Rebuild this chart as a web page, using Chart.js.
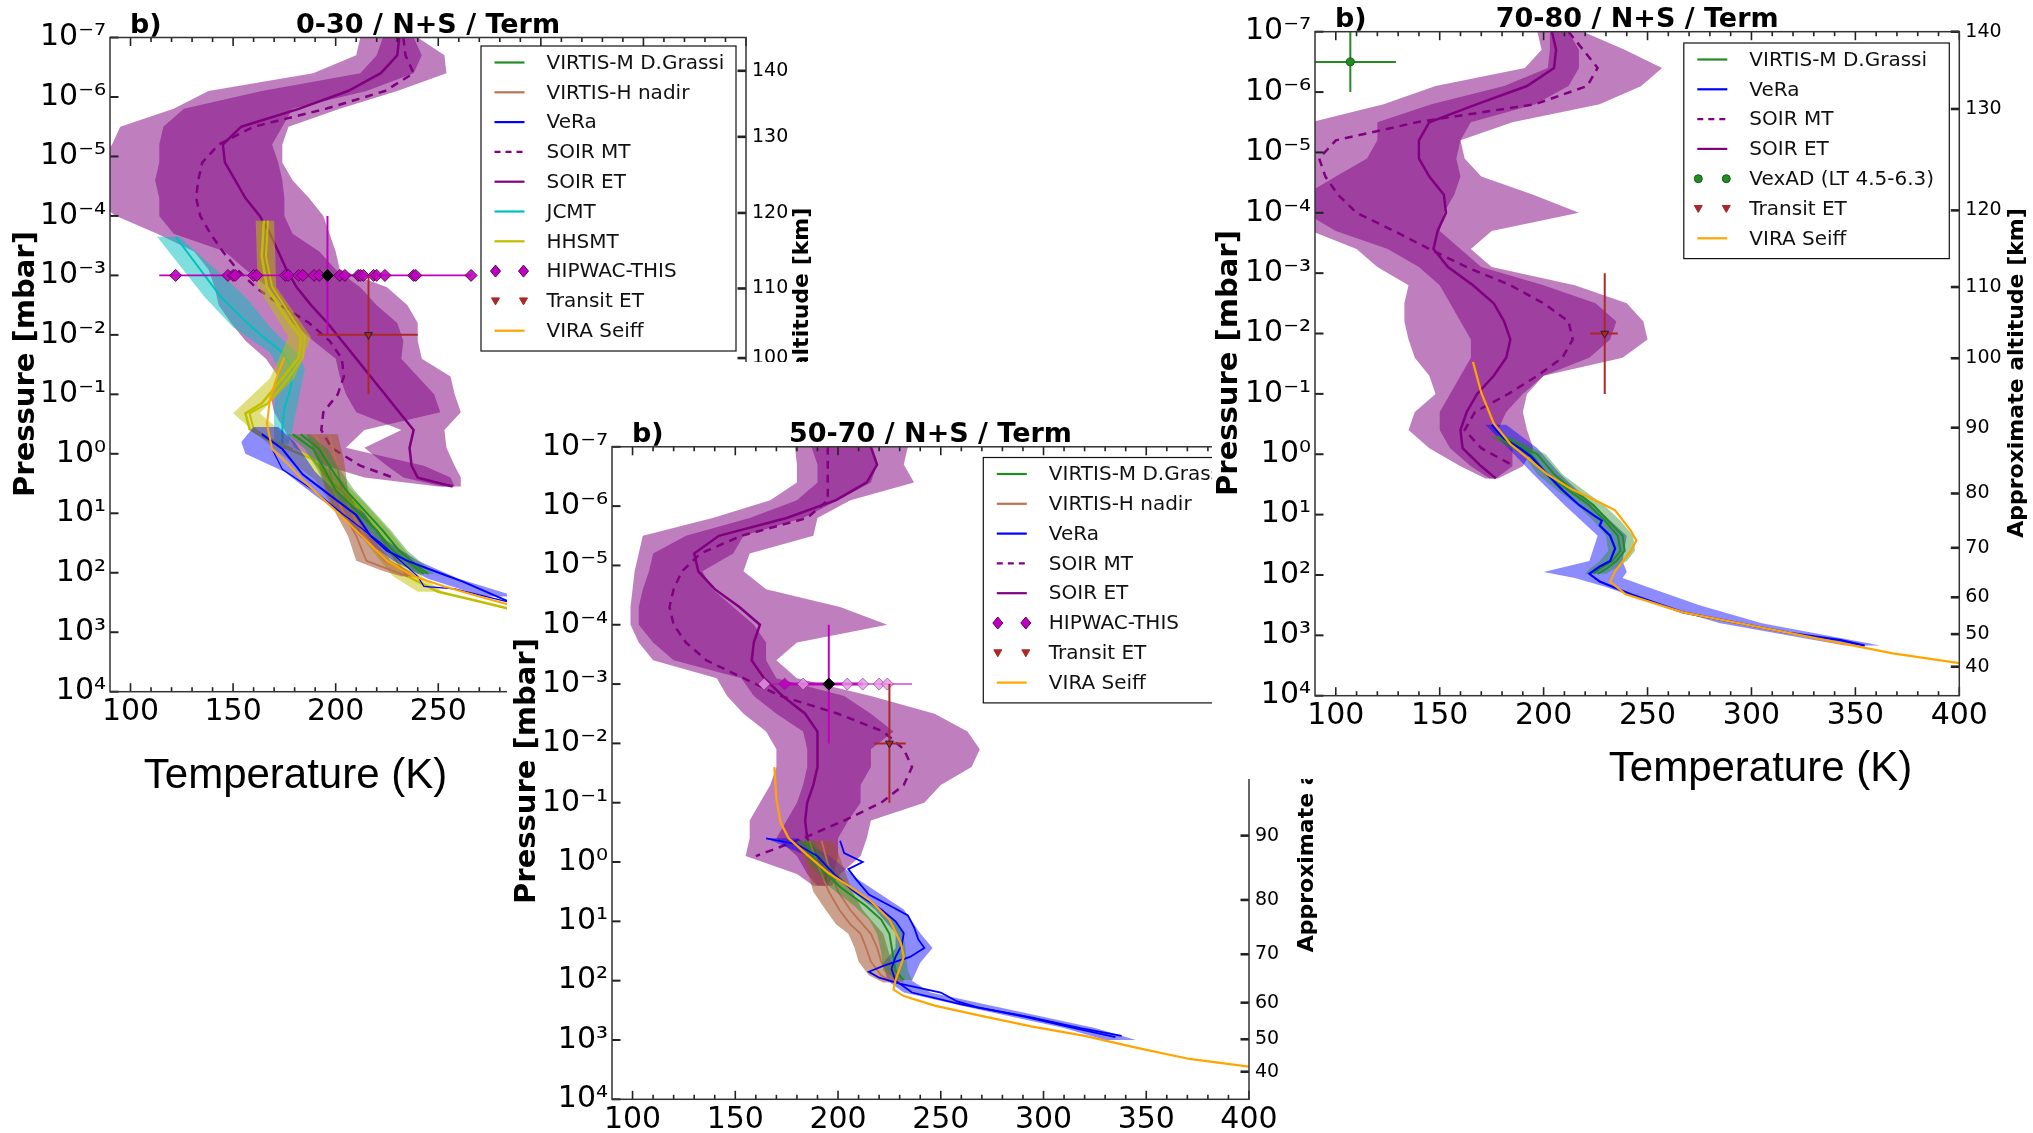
<!DOCTYPE html>
<html><head><meta charset="utf-8">
<script src="https://cdn.jsdelivr.net/npm/chart.js@4.4.1/dist/chart.umd.min.js"></script>
<style>
html,body{margin:0;padding:0;background:#fff;width:2033px;height:1133px;overflow:hidden;}
canvas{position:absolute;display:block;}
#c1{left:0;top:0;z-index:1;background:#fff;}
#c2{left:507px;top:362px;z-index:2;background:#fff;}
#c3{left:1212px;top:0;z-index:3;background:linear-gradient(to bottom,#fff 0,#fff 779px,rgba(255,255,255,0) 779px);}
</style></head><body>
<canvas id="c1" width="840" height="800"></canvas>
<canvas id="c2" width="830" height="771"></canvas>
<canvas id="c3" width="821" height="796"></canvas>
<script>
// ================= shared axes =================
const PRESSURE_DECADES = [1e-7,1e-6,1e-5,1e-4,1e-3,1e-2,1e-1,1e0,1e1,1e2,1e3,1e4];
const TEMP_TICKS = [100,150,200,250,300,350,400];
const ALT_LABELS = [140,130,120,110,100,90,80,70,60,50,40];
const SOIR_LOGP = [-7,-6.7,-6.4,-6.1,-5.8,-5.5,-5.2,-4.9,-4.6,-4.3,-4.0,-3.7,-3.4,-3.1,-2.8,-2.5,-2.2,-1.9,-1.6,-1.3,-1.0,-0.7,-0.4,-0.1,0.2,0.4];

// ================= panel 1 : 0-30 =================
const p1Title = '0-30 / N+S / Term';
const p1AltLogP = [-6.44,-5.33,-4.05,-2.78,-1.61,-0.44,0.64,1.55,2.37,2.98,3.53];
const p1SoirLogP = [-7,-6.7,-6.4,-6.1,-5.8,-5.5,-5.2,-4.9,-4.6,-4.3,-4.0,-3.7,-3.4,-3.1,-2.8,-2.5,-2.2,-1.9,-1.6,-1.3,-1.0,-0.7,-0.4,-0.1,0.2,0.4,0.55];
const p1SoirET = [231,230,222,206,182,154,145,146,151,156,163,168,172,176,181,188,196,203,210,217,224,231,238,236,237,240,257];
const p1SoirMT = [233,234,238,224,195,160,143,135,133,132,134,139,145,152,161,173,187,197,203,204,201,194,193,198,212,228,null];
const p1BandALo = [212,210,189,138,121,95,91,85,80,80,93,113,131,138,141,143,149,156,166,172,168,170,175,180,195,214,250];
const p1BandAHi = [238,242,238,215,179,174,169,172,174,175,175,179,192,200,212,220,230,233,232,240,248,251,214,205,243,256,258];
const p1BandBLo = [223,220,212,164,126,116,114,114,112,114,114,121,146,156,167,174,179,189,200,202,205,210,232,214,225,233,252];
const p1BandBHi = [240,253,254,230,202,177,174,174,179,187,194,197,200,202,225,235,240,240,242,256,258,261,253,254,258,261,261];
const p1VeraLogP1 = [-0.33,-0.08,0.35,0.69,1.03,1.38,1.63,1.80,1.97,2.15,2.36,2.6];
const p1VeraT1 = [164,174,184,197,210,217,225,235,248,262,276,292];
const p1VeraLogP2 = [-0.08,0.26,0.61,1.0,1.5,2.06,2.23,2.27,2.49];
const p1VeraT2 = [169,174,189,203,222,240,243,258,284];
const p1VeraBandLogP = [-0.45,-0.2,0.0,0.3,0.7,1.0,1.4,1.8,2.1,2.4];
const p1VeraBandLo = [160,154,156,175,190,202,212,228,245,272];
const p1VeraBandHi = [172,180,184,190,202,214,222,240,260,288];
const p1GrassiLogP = [-0.33,-0.08,0.26,0.61,0.95,1.29,1.63,1.89,2.02];
const p1GrassiT1 = [179,189,194.5,200,210,220,228,238,243];
const p1GrassiT2 = [183,192,198,205,214,223,231,240,245];
const p1GrassiLo = [176,185,191,196,206,216,224,234,240];
const p1GrassiHi = [187,196,202,209,218,227,235,244,248];
const p1NadirLogP = [-0.33,0.09,0.61,1.0,1.38,1.80,1.97,2.06];
const p1NadirT1 = [190,196,199,204,210,215,228,235];
const p1NadirT2 = [197,200,203,208,214,224,234,237];
const p1NadirLo = [186,191,195,200,206,210,223,232];
const p1NadirHi = [201,204,206,211,217,227,236,239];
const p1JcmtLogP = [-3.65,-2.64,-2.13,-1.70,-1.44,-1.10,-0.76,-0.42,-0.16];
const p1JcmtT = [122,144,159,174,179,178,175,174,174];
const p1JcmtLo = [113,136,150,168,172,171,170,170,170];
const p1JcmtHi = [124,156,168,181,185,183,181,179,177];
const p1HhsmtLogP = [-3.92,-3.32,-2.81,-2.38,-1.96,-1.62,-1.27,-0.85,-0.68,-0.42,-0.25,-0.08,0.09,0.44,0.86,1.29,1.72,2.06,2.32,2.45,2.6];
const p1HhsmtT1 = [165,164,166.5,174,183,182,174,164,156,158,166,177,189,197,210,220,228,235,250,266,284];
const p1HhsmtLogP2 = [-3.92,-3.32,-2.81,-2.38,-1.96,-1.62,-1.27,-0.85,-0.68,-0.42,-0.25,-0.08];
const p1HhsmtT2 = [167,166,169,177,185,184,177,167,158,160,168,179];
const p1HhsmtBandLogP = [-3.92,-2.81,-1.96,-1.27,-0.68,-0.08,0.44,0.86,1.29,1.72,2.06,2.32];
const p1HhsmtLo = [161,162,177,168,150,170,190,198,210,220,228,240];
const p1HhsmtHi = [170,171,188,180,163,183,203,215,226,236,242,252];
const p1ViraLogP = [-1.62,-1.36,-0.93,-0.50,-0.08,0.18,0.44,0.78,1.12,1.46,1.80,2.06,2.23,2.40,2.55];
const p1ViraT = [175,172,168,166.5,169,177,184,194.5,205,215,225,238,253,270,286];
const p1HipwacT = [122,147.5,150,151,160,161.5,175.5,177,182,184,189.5,192,202,204.5,211,212,213.5,218.5,220,224,238,239,266];
const p1HipwacMean = [196];
const p1HipwacRange = [114,266];
const p1HipwacErrLogP = [-4,-2];
const p1TransitT = [216];
const p1TransitRange = [191,240];
const p1TransitErrLogP = [-3,-1];

// ================= panel 2 : 50-70 =================
const p2Title = '50-70 / N+S / Term';
const p2AltLogP = [-6.9,-5.7,-4.04,-2.77,-1.59,-0.445,0.639,1.555,2.371,2.988,3.535];
const p2SoirET = [216,219,214,199,175,142,130,132,140,152,162,159,158,164,173,184,190,190,190,188,185,184,185,190,194,194];
const p2SoirMT = [195,195,195,195,185,153,133,124,120,118,120,126,136,154,172,200,222,232,236,232,221,203,183,160,null,null];
const p2BandALo = [179,180,180,167,139,105,103,101,100,99,99,103,110,141,146,154,165,170,170,167,162,157,157,155,180,188];
const p2BandAHi = [216,219,216,200,183,154,149,134,139,149,159,165,165,170,203,216,227,216,216,211,211,205,200,200,198,195];
const p2BandBLo = [187,190,190,180,157,126,110,108,105,103,103,110,120,153,159,170,183,185,185,183,180,175,170,180,185,190];
const p2BandBHi = [234,232,237,206,190,188,157,154,165,201,224,180,170,180,216,247,263,269,265,250,242,216,214,211,201,197];
const p2VeraLogP1 = [-0.36,-0.15,0.0,0.12,0.3,0.55,0.75,0.9,1.1,1.3,1.45,1.6,1.75,1.85,1.95,2.05,2.2,2.35,2.45,2.62,2.8,2.93];
const p2VeraT1 = [201,203,212,205,209,215,226,234,237,239,242,235,222,215,220,230,250,258,268,294,318,338];
const p2VeraLogP2 = [-0.4,-0.3,-0.1,0.2,0.5,0.8,1.0,1.2,1.4,1.6,1.8,2.0,2.2,2.4,2.6,2.8,2.95];
const p2VeraT2 = [165,180,190,198,208,221,228,232,231,228,226,228,236,260,290,315,335];
const p2VeraBandLogP = [-0.4,-0.1,0.3,0.8,1.2,1.45,1.7,2.0,2.2,2.5,2.8,3.0];
const p2VeraBandLo = [165,185,200,218,228,228,222,224,232,270,310,330];
const p2VeraBandHi = [180,196,210,232,240,246,240,236,245,285,325,345];
const p2GrassiLogP = [-0.36,0.03,0.42,0.74,0.97,1.21,1.52,1.83,1.99];
const p2GrassiT = [184,190,201,213.6,221,225,226.5,228,232];
const p2GrassiLo = [180,186,196,208,215,219,221,222,228];
const p2GrassiHi = [188,195,206,219,227,232,233,234,236];
const p2NadirLogP = [-0.36,0.03,0.5,0.81,1.05,1.21,1.44,1.68,1.91,2.03];
const p2NadirT1 = [186,190,195.5,200.7,206,211,213.6,216,221,226.5];
const p2NadirT2 = [192,195,200,206,212,216,219,221,225,229];
const p2NadirLo = [180,184,188,194,199,205,208,210,215,222];
const p2NadirHi = [198,202,207,212,218,222,224,226,230,232];
const p2ViraLogP = [-1.60,-1.06,-0.67,-0.40,-0.12,0.19,0.42,0.66,0.97,1.36,1.60,1.99,2.15,2.26,2.42,2.58,2.77,2.93,3.13,3.32,3.45];
const p2ViraT = [169,170,172,176,185,195.5,206,216,225,230.5,232,228,227,232,247,268,294,320,345,371,400];
const p2HipwacT = [164,174,183,204.5,212,220,224];
const p2HipwacMean = [195.5];
const p2HipwacRange = [163,236];
const p2HipwacCore = [174,212];
const p2HipwacErrLogP = [-4,-2];
const p2TransitT = [225];
const p2TransitRange = [217.5,233];
const p2TransitErrLogP = [-3,-1];

// ================= panel 3 : 70-80 =================
const p3Title = '70-80 / N+S / Term';
const p3AltLogP = [-7.0,-5.72,-4.04,-2.77,-1.59,-0.44,0.65,1.55,2.37,2.98,3.52];
const p3SoirET = [204,206,205,192,168,145,140,140,145,152,153,149,147,154,166,176,181,184,182,176,168,163,160,161,170,177];
const p3SoirMT = [212,219,226,221,196,139,100,92,95,101,110,128,145,163,184,200,212,214,209,197,183,167,162,170,186,null];
const p3BandALo = [197,199,191,148,123,88,85,85,85,85,85,88,110,120,135,133,133,135,138,145,148,138,135,145,160,172];
const p3BandAHi = [212,217,217,212,196,165,160,158,160,157,152,150,160,170,200,225,235,232,222,200,190,182,178,185,185,177];
const p3BandBLo = [203,203,202,181,146,120,120,115,100,85,85,100,125,140,150,155,160,165,165,160,155,150,150,155,165,174];
const p3BandBHi = [219,239,257,247,227,185,160,162,170,195,217,175,165,175,215,240,248,250,238,200,192,190,192,195,190,178];
const p3VeraLogP = [-0.49,-0.26,-0.09,0.04,0.33,0.59,0.84,1.01,1.10,1.18,1.35,1.56,1.77,1.86,1.98,2.11,2.32,2.62,2.79,2.96,3.08,3.17];
const p3VeraT = [175,181,189,194,201.6,209,217,224,228,227,232,234.4,232,227,222,227,242,267,292.6,318,343,354.5];
const p3VeraBandLogP = [-0.49,-0.1,0.33,0.84,1.35,1.77,1.95,2.05,2.2,2.5,2.8,3.17];
const p3VeraBandLo = [172,183,195,210,226,222,200,215,230,255,285,345];
const p3VeraBandHi = [182,197,208,224,240,238,240,238,250,275,305,362];
const p3GrassiLogP = [-0.30,-0.17,0.0,0.33,0.59,0.84,1.10,1.35,1.60,1.77,1.90,1.98];
const p3GrassiT1 = [177.6,184,194,201.6,211.7,221.8,229.4,235.7,237,233,227,224];
const p3GrassiT2 = [180,187,197,205,214,224,231,238,239,235,230,226];
const p3GrassiLo = [174,180,190,197,206,216,224,230,231,227,222,220];
const p3GrassiHi = [184,191,201,209,219,229,237,243,244,240,234,230];
const p3ViraLogP = [-1.53,-1.02,-0.51,-0.17,0.04,0.33,0.59,0.80,0.93,1.27,1.43,1.60,1.94,2.11,2.32,2.62,2.79,2.96,3.13,3.30,3.46];
const p3ViraT = [166,170,176,184,191.5,201.6,214,227,234.4,242,244.6,242,234.4,232,239.5,267,292.6,318,343,368,400];
const p3TransitT = [229.4];
const p3TransitRange = [222.3,235.7];
const p3TransitErrLogP = [-3,-1];
const p3VexadT = [107];
const p3VexadLogP = [-6.5];
const p3VexadRange = [85,129];
const p3VexadErrLogP = [-7,-6];

// ================= styling =================
const FONT = "'DejaVu Sans', sans-serif";
const XFONT = "'Liberation Sans', Arial, sans-serif";
Chart.defaults.font.family = FONT;
Chart.defaults.color = '#000';
const COL = {
  green:'rgb(34,139,34)', brown:'rgb(190,112,82)', blue:'rgb(0,0,255)', purple:'rgb(128,0,128)',
  cyan:'rgb(0,191,191)', olive:'rgb(191,191,0)', orange:'rgb(255,165,0)', magenta:'rgb(191,0,191)',
  transit:'rgb(170,40,40)'
};
const BAND = {
  purple:'rgba(128,0,128,0.5)', blue:'rgba(0,0,255,0.45)', green:'rgba(34,139,34,0.42)',
  brown:'rgba(160,82,45,0.55)', cyan:'rgba(0,191,191,0.5)', olive:'rgba(191,191,0,0.5)'
};

function xy(T, LP) {
  const out = [];
  for (let i = 0; i < T.length; i++) if (T[i] !== null) out.push({x: T[i], y: Math.pow(10, LP[i])});
  return out;
}
function xyConst(T, lp) { return T.map(t => ({x: t, y: Math.pow(10, lp)})); }
function poly(lo, hi, LP) {
  const out = [];
  for (let i = 0; i < lo.length; i++) out.push({x: lo[i], y: Math.pow(10, LP[i])});
  for (let i = hi.length - 1; i >= 0; i--) out.push({x: hi[i], y: Math.pow(10, LP[i])});
  return out;
}
function hBar(range, lp) { return [{x: range[0], y: Math.pow(10, lp)}, {x: range[1], y: Math.pow(10, lp)}]; }
function vBar(t, lpRange) { return [{x: t, y: Math.pow(10, lpRange[0])}, {x: t, y: Math.pow(10, lpRange[1])}]; }

function mkLine(data, color, width, dash) {
  return {data, borderColor: color, backgroundColor: color, borderWidth: width, borderDash: dash || [],
          pointRadius: 0, fill: false, tension: 0};
}
function mkBand(data, color) {
  return {data, borderColor: 'rgba(0,0,0,0)', borderWidth: 0, backgroundColor: color, fill: 'shape',
          pointRadius: 0, tension: 0};
}
function mkMarks(data, style, radius, bg, border, rot) {
  return {data, showLine: false, pointStyle: style, pointRadius: radius, pointBackgroundColor: bg,
          pointBorderColor: border, pointBorderWidth: 1, pointRotation: rot || 0,
          borderColor: border, backgroundColor: bg, fill: false};
}
function soirBands(aLo, aHi, bLo, bHi, LP) {
  return [mkBand(poly(aLo, aHi, LP), BAND.purple), mkBand(poly(bLo, bHi, LP), BAND.purple)];
}

const SUP = {'-':'\u207B','0':'\u2070','1':'\u00B9','2':'\u00B2','3':'\u00B3','4':'\u2074','5':'\u2075','6':'\u2076','7':'\u2077','8':'\u2078','9':'\u2079'};
function decadeLabel(v) {
  const e = Math.round(Math.log10(v));
  return '10' + String(e).split('').map(c => SUP[c]).join('');
}

function strokeLine(ctx, x0, y0, x1, y1) { ctx.beginPath(); ctx.moveTo(x0, y0); ctx.lineTo(x1, y1); ctx.stroke(); }
function vText(ctx, text, x, y, font) {
  ctx.save(); ctx.translate(x, y); ctx.rotate(-Math.PI / 2);
  ctx.font = font; ctx.textAlign = 'center'; ctx.textBaseline = 'middle'; ctx.fillStyle = '#000';
  ctx.fillText(text, 0, 0); ctx.restore();
}

function drawLegend(ctx, a, lg) {
  const rowH = 29.8, w = lg.width, h = lg.rows.length * rowH + 7;
  const x0 = a.right - lg.right - w, y0 = a.top + lg.top;
  ctx.fillStyle = '#fff'; ctx.fillRect(x0, y0, w, h);
  ctx.strokeStyle = '#111'; ctx.lineWidth = 1.2; ctx.setLineDash([]);
  ctx.strokeRect(x0, y0, w, h);
  lg.rows.forEach((r, i) => {
    const y = y0 + 16.5 + i * rowH, hx0 = x0 + 13.5, hx1 = x0 + 43.5;
    ctx.save();
    if (r.kind === 'line') {
      ctx.strokeStyle = r.color; ctx.lineWidth = 2.2; ctx.setLineDash(r.dash || []);
      strokeLine(ctx, hx0, y, hx1, y);
    } else {
      [hx0 + 1, hx1 - 1].forEach(cx => {
        ctx.fillStyle = r.color; ctx.strokeStyle = r.edge || r.color; ctx.lineWidth = 1;
        ctx.beginPath();
        if (r.kind === 'diamond') { ctx.moveTo(cx, y - 6); ctx.lineTo(cx + 5, y); ctx.lineTo(cx, y + 6); ctx.lineTo(cx - 5, y); }
        else if (r.kind === 'tri') { ctx.moveTo(cx - 4, y - 3); ctx.lineTo(cx + 4, y - 3); ctx.lineTo(cx, y + 4); }
        else { ctx.arc(cx, y, 4, 0, Math.PI * 2); }
        ctx.closePath(); ctx.fill(); ctx.stroke();
      });
    }
    ctx.restore();
    ctx.fillStyle = '#111'; ctx.font = '20px ' + FONT; ctx.textAlign = 'left'; ctx.textBaseline = 'middle';
    ctx.fillText(r.label, x0 + 65.5, y + 1);
  });
}

const venusPlugin = {
  id: 'venus',
  afterDraw(chart, args, o) {
    const ctx = chart.ctx, a = chart.chartArea;
    const xs = chart.scales.x, ys = chart.scales.y, as = chart.scales.alt;
    ctx.save();
    ctx.strokeStyle = '#222'; ctx.setLineDash([]);
    for (let t = 100; t <= 400; t += 10) {
      const px = xs.getPixelForValue(t);
      const len = TEMP_TICKS.includes(t) ? 8.5 : 4.5;
      ctx.lineWidth = 1.6;
      strokeLine(ctx, px, a.bottom, px, a.bottom - len);
      strokeLine(ctx, px, a.top, px, a.top + len);
    }
    ctx.lineWidth = 2;
    PRESSURE_DECADES.forEach(p => { const py = ys.getPixelForValue(p); strokeLine(ctx, a.left, py, a.left + 8.5, py); });
    ctx.lineWidth = 2.6;
    o.altLogP.forEach(lp => { const py = as.getPixelForValue(Math.pow(10, lp)); strokeLine(ctx, a.right - 8.5, py, a.right, py); });
    ctx.lineWidth = 1.5; ctx.strokeStyle = '#333';
    ctx.strokeRect(a.left, a.top, a.right - a.left, a.bottom - a.top);
    ctx.fillStyle = '#000'; ctx.textBaseline = 'alphabetic';
    ctx.font = 'bold 27px ' + FONT; ctx.textAlign = 'left';
    ctx.fillText('b)', a.left + 20, a.top - 5);
    ctx.textAlign = 'center';
    ctx.fillText(o.title, (a.left + a.right) / 2, a.top - 5);
    vText(ctx, 'Pressure [mbar]', o.ylab[0], o.ylab[1], 'bold 29px ' + FONT);
    vText(ctx, 'Approximate altitude [km]', o.alab[0], o.alab[1], 'bold 22px ' + FONT);
    if (o.xlab) {
      ctx.font = '42px ' + XFONT; ctx.textAlign = 'center'; ctx.textBaseline = 'alphabetic'; ctx.fillStyle = '#000';
      ctx.fillText('Temperature (K)', o.xlab[0], o.xlab[1]);
    }
    drawLegend(ctx, a, o.legend);
    ctx.restore();
  }
};

function makeChart(id, g, datasets, o) {
  datasets.forEach((d, i) => { d.order = -i; });
  return new Chart(document.getElementById(id), {
    type: 'line',
    data: {datasets},
    options: {
      responsive: false, animation: false, devicePixelRatio: 1, events: [],
      layout: {padding: {top: g.T, left: 0, right: 0, bottom: 0}, autoPadding: false},
      plugins: {legend: {display: false}, tooltip: {enabled: false}, title: {display: false}, venus: o},
      elements: {point: {radius: 0, hoverRadius: 0}, line: {tension: 0}},
      scales: {
        x: {type: 'linear', min: 90, max: 400, position: 'bottom',
            grid: {display: false, drawTicks: false}, border: {display: false},
            afterBuildTicks: s => { s.ticks = TEMP_TICKS.map(v => ({value: v})); },
            ticks: {font: {size: 30}, color: '#000', padding: 3, maxRotation: 0, autoSkip: false, callback: v => String(v)},
            afterFit: s => { s.height = g.H - g.B; }},
        y: {type: 'logarithmic', min: 1e-7, max: 1e4, reverse: true, position: 'left',
            grid: {display: false, drawTicks: false}, border: {display: false},
            afterBuildTicks: s => { s.ticks = PRESSURE_DECADES.map(v => ({value: v})); },
            ticks: {font: {size: 30}, color: '#000', padding: 4, autoSkip: false, callback: v => decadeLabel(v)},
            afterFit: s => { s.width = g.L; }},
        alt: {type: 'logarithmic', min: 1e-7, max: 1e4, reverse: true, position: 'right',
            grid: {display: false, drawTicks: false}, border: {display: false},
            afterBuildTicks: s => { s.ticks = o.altLogP.map(v => ({value: Math.pow(10, v)})); },
            ticks: {font: {size: 19}, color: '#000', padding: 6, autoSkip: false, callback: (v, i) => String(ALT_LABELS[i])},
            afterFit: s => { s.width = g.W - g.R; }}
      }
    },
    plugins: [venusPlugin]
  });
}

// ================= panel 1 =================
const ds1 = [
  ...soirBands(p1BandALo, p1BandAHi, p1BandBLo, p1BandBHi, p1SoirLogP),
  mkLine(xy(p1SoirMT, p1SoirLogP), COL.purple, 2.5, [8, 6]),
  mkLine(xy(p1SoirET, p1SoirLogP), COL.purple, 2.5),
  mkBand(poly(p1JcmtLo, p1JcmtHi, p1JcmtLogP), BAND.cyan),
  mkLine(xy(p1JcmtT, p1JcmtLogP), COL.cyan, 2),
  mkBand(poly(p1HhsmtLo, p1HhsmtHi, p1HhsmtBandLogP), BAND.olive),
  mkLine(xy(p1HhsmtT1, p1HhsmtLogP), COL.olive, 2.5),
  mkLine(xy(p1HhsmtT2, p1HhsmtLogP2), COL.olive, 2),
  mkBand(poly(p1VeraBandLo, p1VeraBandHi, p1VeraBandLogP), BAND.blue),
  mkBand(poly(p1NadirLo, p1NadirHi, p1NadirLogP), BAND.brown),
  mkLine(xy(p1NadirT1, p1NadirLogP), COL.brown, 1.8),
  mkLine(xy(p1NadirT2, p1NadirLogP), COL.brown, 1.8),
  mkBand(poly(p1GrassiLo, p1GrassiHi, p1GrassiLogP), BAND.green),
  mkLine(xy(p1GrassiT1, p1GrassiLogP), COL.green, 2),
  mkLine(xy(p1GrassiT2, p1GrassiLogP), COL.green, 2),
  mkLine(xy(p1VeraT1, p1VeraLogP1), COL.blue, 2),
  mkLine(xy(p1VeraT2, p1VeraLogP2), COL.blue, 1.2),
  mkLine(xy(p1ViraT, p1ViraLogP), COL.orange, 2),
  mkLine(hBar(p1HipwacRange, -3), COL.magenta, 1.8),
  mkLine(vBar(p1HipwacMean[0], p1HipwacErrLogP), COL.magenta, 2),
  mkMarks(xyConst(p1HipwacT, -3), 'rectRot', 6, 'rgba(191,0,191,0.9)', 'rgba(80,0,80,0.9)'),
  mkMarks(xyConst(p1HipwacMean, -3), 'rectRot', 6, '#000', '#000'),
  mkLine(hBar(p1TransitRange, -2), COL.transit, 2),
  mkLine(vBar(p1TransitT[0], p1TransitErrLogP), COL.transit, 2),
  mkMarks(xyConst(p1TransitT, -2), 'triangle', 4.5, COL.transit, '#222', 180)
];
makeChart('c1', {W: 840, H: 800, L: 110, T: 37.5, R: 746, B: 691.7}, ds1, {
  title: p1Title, altLogP: p1AltLogP, ylab: [26, 364], alab: [802, 372.5], xlab: [295.5, 788],
  legend: {width: 255, right: 10, top: 8.5, rows: [
    {label: 'VIRTIS-M D.Grassi', kind: 'line', color: COL.green},
    {label: 'VIRTIS-H nadir', kind: 'line', color: COL.brown},
    {label: 'VeRa', kind: 'line', color: COL.blue},
    {label: 'SOIR MT', kind: 'line', color: COL.purple, dash: [6, 5]},
    {label: 'SOIR ET', kind: 'line', color: COL.purple},
    {label: 'JCMT', kind: 'line', color: COL.cyan},
    {label: 'HHSMT', kind: 'line', color: COL.olive},
    {label: 'HIPWAC-THIS', kind: 'diamond', color: COL.magenta, edge: 'rgb(90,0,90)'},
    {label: 'Transit ET', kind: 'tri', color: COL.transit, edge: COL.transit},
    {label: 'VIRA Seiff', kind: 'line', color: COL.orange}
  ]}
});

// ================= panel 2 =================
const p2DiamondColors = p2HipwacT.map((t, i) => i === 1 ? 'rgba(191,0,191,0.95)' : 'rgba(230,150,230,0.8)');
const ds2 = [
  ...soirBands(p2BandALo, p2BandAHi, p2BandBLo, p2BandBHi, SOIR_LOGP),
  mkLine(xy(p2SoirMT, SOIR_LOGP), COL.purple, 2.5, [8, 6]),
  mkLine(xy(p2SoirET, SOIR_LOGP), COL.purple, 2.5),
  mkBand(poly(p2VeraBandLo, p2VeraBandHi, p2VeraBandLogP), BAND.blue),
  mkBand(poly(p2NadirLo, p2NadirHi, p2NadirLogP), BAND.brown),
  mkLine(xy(p2NadirT1, p2NadirLogP), COL.brown, 1.8),
  mkLine(xy(p2NadirT2, p2NadirLogP), COL.brown, 1.8),
  mkBand(poly(p2GrassiLo, p2GrassiHi, p2GrassiLogP), BAND.green),
  mkLine(xy(p2GrassiT, p2GrassiLogP), COL.green, 2),
  mkLine(xy(p2VeraT1, p2VeraLogP1), COL.blue, 1.8),
  mkLine(xy(p2VeraT2, p2VeraLogP2), COL.blue, 1.8),
  mkLine(xy(p2ViraT, p2ViraLogP), COL.orange, 2.2),
  mkLine(hBar(p2HipwacRange, -3), 'rgba(191,0,191,0.7)', 1.6),
  mkLine(hBar(p2HipwacCore, -3), COL.magenta, 3),
  mkLine(vBar(p2HipwacMean[0], p2HipwacErrLogP), COL.magenta, 2),
  mkMarks(xyConst(p2HipwacT, -3), 'rectRot', 6, p2DiamondColors, 'rgba(120,40,120,0.6)'),
  mkMarks(xyConst(p2HipwacMean, -3), 'rectRot', 6, '#000', '#000'),
  mkLine(hBar(p2TransitRange, -2), COL.transit, 2),
  mkLine(vBar(p2TransitT[0], p2TransitErrLogP), COL.transit, 2),
  mkMarks(xyConst(p2TransitT, -2), 'triangle', 4.5, COL.transit, '#222', 180)
];
makeChart('c2', {W: 830, H: 771, L: 105, T: 84.8, R: 742, B: 737.3}, ds2, {
  title: p2Title, altLogP: p2AltLogP, ylab: [20, 409], alab: [800, 425.5], xlab: null,
  legend: {width: 255, right: 10.7, top: 10.7, rows: [
    {label: 'VIRTIS-M D.Grassi', kind: 'line', color: COL.green},
    {label: 'VIRTIS-H nadir', kind: 'line', color: COL.brown},
    {label: 'VeRa', kind: 'line', color: COL.blue},
    {label: 'SOIR MT', kind: 'line', color: COL.purple, dash: [6, 5]},
    {label: 'SOIR ET', kind: 'line', color: COL.purple},
    {label: 'HIPWAC-THIS', kind: 'diamond', color: COL.magenta, edge: 'rgb(90,0,90)'},
    {label: 'Transit ET', kind: 'tri', color: COL.transit, edge: COL.transit},
    {label: 'VIRA Seiff', kind: 'line', color: COL.orange}
  ]}
});

// ================= panel 3 =================
const ds3 = [
  ...soirBands(p3BandALo, p3BandAHi, p3BandBLo, p3BandBHi, SOIR_LOGP),
  mkLine(xy(p3SoirMT, SOIR_LOGP), COL.purple, 2.5, [8, 6]),
  mkLine(xy(p3SoirET, SOIR_LOGP), COL.purple, 2.5),
  mkBand(poly(p3VeraBandLo, p3VeraBandHi, p3VeraBandLogP), BAND.blue),
  mkBand(poly(p3GrassiLo, p3GrassiHi, p3GrassiLogP), BAND.green),
  mkLine(xy(p3GrassiT1, p3GrassiLogP), COL.green, 2),
  mkLine(xy(p3GrassiT2, p3GrassiLogP), COL.green, 2),
  mkLine(xy(p3VeraT, p3VeraLogP), COL.blue, 2.2),
  mkLine(xy(p3ViraT, p3ViraLogP), COL.orange, 2.2),
  mkLine(hBar(p3TransitRange, -2), COL.transit, 2),
  mkLine(vBar(p3TransitT[0], p3TransitErrLogP), COL.transit, 2),
  mkMarks(xyConst(p3TransitT, -2), 'triangle', 4.5, COL.transit, '#222', 180),
  mkLine(hBar(p3VexadRange, p3VexadLogP[0]), COL.green, 2),
  mkLine(vBar(p3VexadT[0], p3VexadErrLogP), COL.green, 2),
  mkMarks(xyConst(p3VexadT, p3VexadLogP[0]), 'circle', 4, COL.green, 'rgb(20,90,20)')
];
makeChart('c3', {W: 821, H: 796, L: 103, T: 31.7, R: 747.3, B: 695.7}, ds3, {
  title: p3Title, altLogP: p3AltLogP, ylab: [17.6, 363], alab: [805, 373], xlab: [548.5, 781],
  legend: {width: 265.5, right: 10, top: 11.3, rows: [
    {label: 'VIRTIS-M D.Grassi', kind: 'line', color: COL.green},
    {label: 'VeRa', kind: 'line', color: COL.blue},
    {label: 'SOIR MT', kind: 'line', color: COL.purple, dash: [6, 5]},
    {label: 'SOIR ET', kind: 'line', color: COL.purple},
    {label: 'VexAD (LT 4.5-6.3)', kind: 'dot', color: COL.green, edge: 'rgb(20,90,20)'},
    {label: 'Transit ET', kind: 'tri', color: COL.transit, edge: COL.transit},
    {label: 'VIRA Seiff', kind: 'line', color: COL.orange}
  ]}
});
</script>
</body></html>
